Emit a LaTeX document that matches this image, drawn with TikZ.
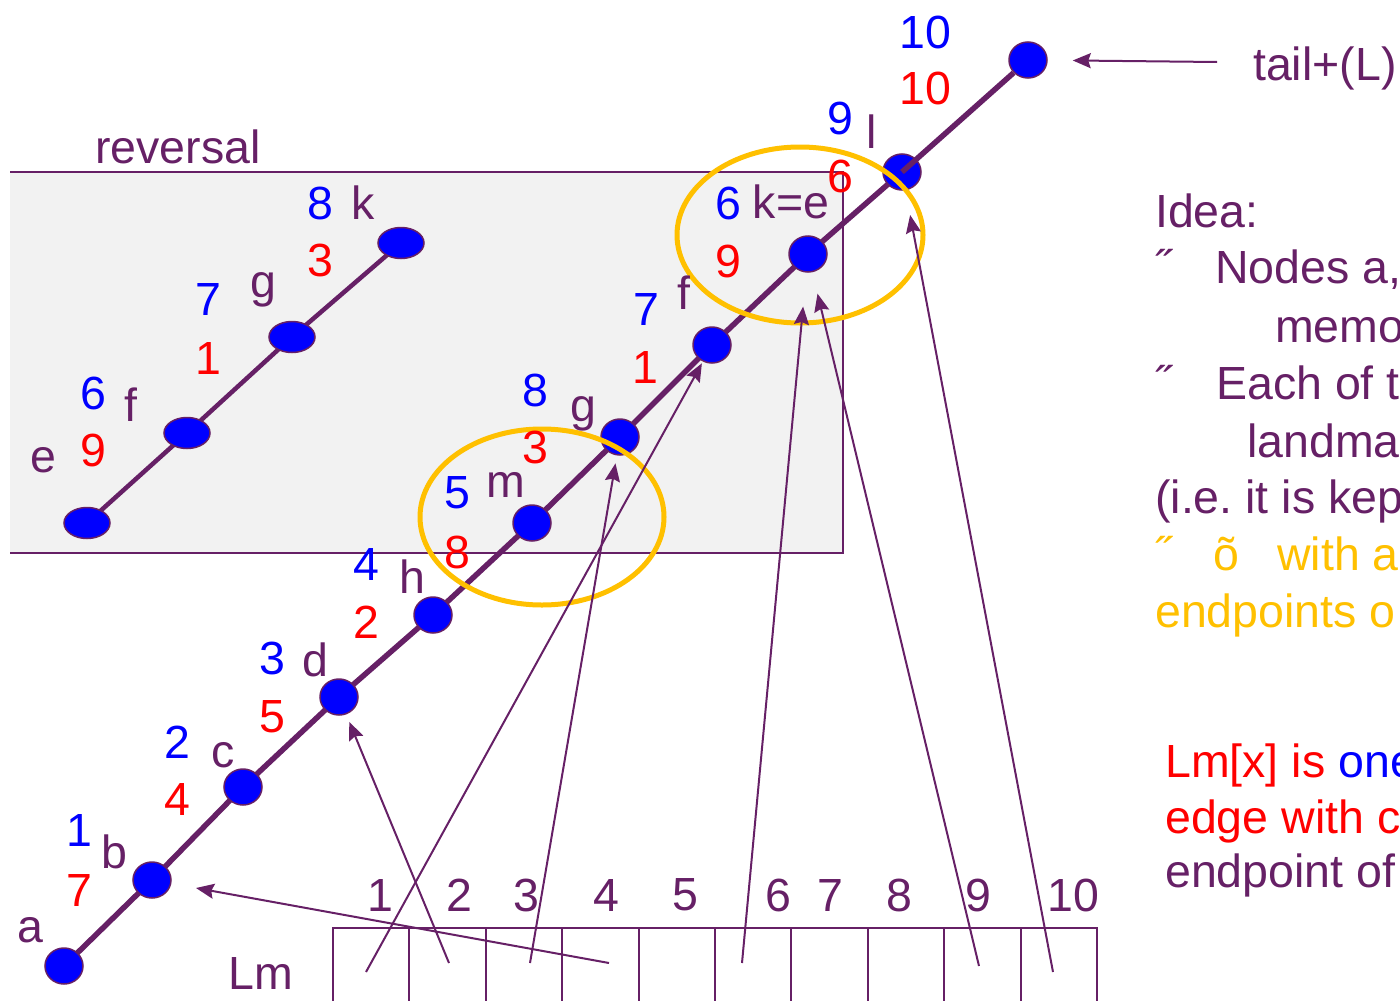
\documentclass[tikz,border=0pt]{standalone}
\usepackage{fontspec}
\setmainfont{Liberation Sans}
\usetikzlibrary{arrows.meta,shapes.geometric}
\definecolor{plum}{RGB}{102,32,102}
\definecolor{dotblue}{RGB}{0,0,255}
\definecolor{numred}{RGB}{255,0,0}
\definecolor{ringgold}{RGB}{255,192,0}
\definecolor{boxgray}{RGB}{242,242,242}
\frenchspacing
\tikzset{
  bead/.style={ellipse,draw=plum,line width=1.5pt,fill=dotblue,minimum width=38pt,minimum height=36pt,inner sep=0pt},
  rbead/.style={bead,minimum width=46pt,minimum height=31pt},
  ring/.style={ellipse,draw=ringgold,line width=5pt,minimum width=246pt,minimum height=176pt,inner sep=0pt},
  track/.style={draw=plum,line width=5.5pt},
  rtrack/.style={draw=plum,line width=4.5pt},
  ptr/.style={-{Stealth[length=18pt,width=15pt,inset=2.5pt]},draw=plum,line width=2pt},
  rim/.style={draw=plum,line width=2pt},
  cell/.style={rim,anchor=north,minimum width=76.4pt,minimum height=100pt,inner sep=0pt},
  lbl/.style={text=plum,inner sep=0pt},
  bnum/.style={text=dotblue,inner sep=0pt},
  rnum/.style={text=numred,inner sep=0pt},
  note/.style={anchor=base west,inner sep=0pt,text=plum},
  hint/.style={note,text=ringgold}
}

\begin{document}
\begin{tikzpicture}[x=1pt,y=-1pt,font=\fontsize{46.5}{56}\selectfont]
\useasboundingbox (0,0) rectangle (1400,1001);
\clip (0,0) rectangle (1400,1001);
\fill[boxgray] (10,172) rectangle (843,553);
\draw[rim] (10,172) -- (843,172) -- (843,553) -- (10,553);
\node[note] (rev) at (95,163) {reversal};

\draw[track] (64,966) node[bead] (a) {}
  -- (152,880) node[bead] (b) {}
  -- (243,787) node[bead] (c) {}
  -- (339,697) node[bead] (d) {}
  -- (433,615) node[bead] (h) {}
  -- (532,523) node[bead] (m) {}
  -- (620,437) node[bead] (g) {}
  -- (712,345) node[bead] (f) {}
  -- (808,254) node[bead] (e) {}
  -- (902,172) node[bead] (l) {};
\node[bead] (tail) at (1028,60) {};
\draw[track] (l.center) -- (tail);

\draw[rtrack] (87,523) node[rbead] (re) {}
  -- (187,433) node[rbead] (rf) {}
  -- (292,337) node[rbead] (rg) {}
  -- (401,243) node[rbead] (rk) {};

\node[ring] (ring1) at (800,235) {};
\node[ring,minimum width=244pt] (ring2) at (542,517) {};

\node[lbl] (la) at (30,930) {a};
\node[bnum] (ub) at (79,830) {1};
\node[lbl] (lb) at (114,852) {b};
\node[rnum] (db) at (79,890) {7};
\node[bnum] (uc) at (177,742) {2};
\node[lbl] (lc) at (223,755) {c};
\node[rnum] (dc) at (177,799) {4};
\node[bnum] (ud) at (272,658) {3};
\node[lbl] (ld) at (315,660) {d};
\node[rnum] (dd) at (272,717) {5};
\node[bnum] (uh) at (366,564) {4};
\node[lbl] (lh) at (412,577) {h};
\node[rnum] (dh) at (366,622) {2};
\node[bnum] (um) at (457,493) {5};
\node[lbl] (lm) at (506,485) {m};
\node[rnum] (dm) at (457,552) {8};
\node[bnum] (ug) at (535,390) {8};
\node[lbl] (lg) at (583,414) {g};
\node[rnum] (dg) at (535,447) {3};
\node[bnum] (uf) at (646,310) {7};
\node[lbl] (lf) at (684,293) {f};
\node[rnum] (df) at (645,367) {1};
\node[bnum] (ue) at (728,203) {6};
\node[lbl] (le) at (791,202) {k=e};
\node[rnum] (de) at (728,261) {9};
\node[bnum] (ul) at (840,118) {9};
\node[lbl] (ll) at (872,132) {l};
\node[rnum] (dl) at (840,176) {6};
\node[bnum] (utail) at (925,32) {10};
\node[rnum] (dtail) at (925,88) {10};

\node[lbl] (rle) at (43,460) {e};
\node[bnum] (rue) at (93,393) {6};
\node[lbl] (rlf) at (131,405) {f};
\node[rnum] (rde) at (93,450) {9};
\node[bnum] (rug) at (208,300) {7};
\node[lbl] (rlg) at (263,290) {g};
\node[rnum] (rdg) at (208,358) {1};
\node[bnum] (ruk) at (320,203) {8};
\node[lbl] (rlk) at (363,203) {k};
\node[rnum] (rdk) at (320,260) {3};

\node[lbl] (lmname) at (261,973) {Lm};
\node[cell] (c1) at (371.2,927) {};
\node[cell] (c2) at (447.6,927) {};
\node[cell] (c3) at (524.0,927) {};
\node[cell] (c4) at (600.4,927) {};
\node[cell] (c5) at (676.8,927) {};
\node[cell] (c6) at (753.2,927) {};
\node[cell] (c7) at (829.6,927) {};
\node[cell] (c8) at (906.0,927) {};
\node[cell] (c9) at (982.4,927) {};
\node[cell] (c10) at (1058.8,927) {};
\node[lbl] (k1) at (380,895) {1};
\node[lbl] (k2) at (459,895) {2};
\node[lbl] (k3) at (526,895) {3};
\node[lbl] (k4) at (606,895) {4};
\node[lbl] (k5) at (685,895) {5};
\node[lbl] (k6) at (778,895) {6};
\node[lbl] (k7) at (830,895) {7};
\node[lbl] (k8) at (899,895) {8};
\node[lbl] (k9) at (978,895) {9};
\node[lbl] (k10) at (1073,895) {10};

\coordinate (s1) at (366,972);
\coordinate (s2) at (449,963);
\coordinate (s3) at (530,963);
\coordinate (s4) at (609,963);
\coordinate (s5) at (742,963);
\coordinate (s6) at (979,966);
\coordinate (s7) at (1053,972);
\coordinate (s8) at (1217,62);
\draw[ptr,shorten >=2pt] (s1) -- (f);
\draw[ptr,shorten >=8pt] (s2) -- (d);
\draw[ptr,shorten >=8pt] (s3) -- (g);
\draw[ptr,shorten >=25pt] (s4) -- (b);
\draw[ptr,shorten >=34pt] (s5) -- (e);
\draw[ptr,shorten >=22pt] (s6) -- (e);
\draw[ptr,shorten >=25pt] (s7) -- (l);
\draw[ptr,shorten >=25pt] (s8) -- (tail);
\node[note] (tailtxt) at (1253,80) {tail+(L)};

\node[note] (idea) at (1155,227) {Idea:};
\node[note] (bul1) at (1155,283) {˝};
\node[note] (t1) at (1215,283) {Nodes a,};
\node[note] (t2) at (1275,342) {memo};
\node[note] (bul2) at (1155,399) {˝};
\node[note] (t3) at (1216,399) {Each of t};
\node[note] (t4) at (1247,457) {landma};
\node[note] (t5) at (1155,513) {(i.e. it is kep};
\node[hint] (bul3) at (1155,570) {˝};
\node[hint] (t6) at (1213,570) {õ};
\node[hint] (t7) at (1277,570) {with a};
\node[hint] (t8) at (1155,627) {endpoints o};
\node[note] (lm1) at (1165,777) {\textcolor{numred}{Lm[x] is} \textcolor{dotblue}{one}};
\node[note,text=numred] (lm2) at (1165,833) {edge with c};
\node[note] (lm3) at (1165,887) {endpoint of};
\end{tikzpicture}
\end{document}
